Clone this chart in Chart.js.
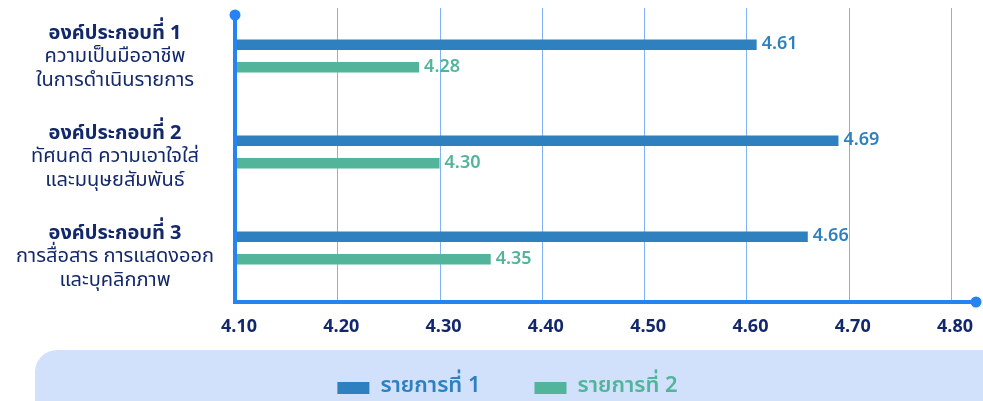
<!DOCTYPE html>
<html>
<head>
<meta charset="utf-8">
<script src="https://cdn.jsdelivr.net/npm/chart.js@4.4.1/dist/chart.umd.min.js"></script>
<style>
html, body { margin: 0; padding: 0; background: #fff; }
#wrap { width: 983px; height: 401px; }
</style>
</head>
<body>
<div id="wrap"><canvas id="grafico"></canvas></div>
<script>
// Datos
const categorias = [
    ["องค์ประกอบที่ 1", "ความเป็นมืออาชีพ", "ในการดำเนินรายการ"],
    ["องค์ประกอบที่ 2", "ทัศนคติ ความเอาใจใส่", "และมนุษยสัมพันธ์"],
    ["องค์ประกอบที่ 3", "การสื่อสาร การแสดงออก", "และบุคลิกภาพ"]
];
const rotulos = ["รายการที่ 1", "รายการที่ 2"];
const serie1 = [4.61, 4.69, 4.66];
const serie2 = [4.28, 4.30, 4.35];
const ticksX = [4.10, 4.20, 4.30, 4.40, 4.50, 4.60, 4.70, 4.80];

const AZUL = '#2e80bf';
const VERDE = '#52b49b';
const EJE = '#2684f2';
const GRID = '#7fb2f7';
const TEXTO = '#13286b';
const FUENTE = '"Noto Sans Thai", "Noto Sans", "DejaVu Sans", sans-serif';

// fondo de la leyenda y rejilla
const fondo = {
    id: 'fondo',
    beforeDraw(chart) {
        const c = chart.ctx;
        c.save();
        c.fillStyle = '#d1e1fc';
        c.beginPath();
        c.roundRect(35, 350, 1000, 80, 22);
        c.fill();
        const x = chart.scales.x;
        c.strokeStyle = GRID;
        c.lineWidth = 1;
        ticksX.slice(1).forEach(v => {
            const px = Math.round(x.getPixelForValue(v)) + 0.5;
            c.beginPath();
            c.moveTo(px, 8);
            c.lineTo(px, 302);
            c.stroke();
        });
        c.restore();
    },
    afterDatasetsDraw(chart) {
        const c = chart.ctx;
        const x = chart.scales.x;
        const y = chart.scales.y;
        const x0 = x.getPixelForValue(ticksX[0]);
        c.save();
        // ejes
        c.strokeStyle = EJE;
        c.fillStyle = EJE;
        c.lineWidth = 4;
        c.beginPath();
        c.moveTo(x0, 15);
        c.lineTo(x0, 302);
        c.lineTo(976, 302);
        c.stroke();
        c.beginPath(); c.arc(x0, 15, 5.5, 0, Math.PI * 2); c.fill();
        c.beginPath(); c.arc(976, 302, 5.5, 0, Math.PI * 2); c.fill();

        // valores
        c.textBaseline = 'middle';
        c.textAlign = 'left';
        c.font = '600 18px ' + FUENTE;
        chart.data.datasets.forEach((ds, di) => {
            chart.getDatasetMeta(di).data.forEach((bar, i) => {
                c.fillStyle = ds.backgroundColor;
                c.fillText(ds.data[i].toFixed(2), bar.x + 5, bar.y + 1);
            });
        });

        // etiquetas de categoría
        c.textAlign = 'center';
        categorias.forEach((lineas, i) => {
            const cy = y.getPixelForValue(i) + 2 + i * 4;
            lineas.forEach((t, j) => {
                c.fillStyle = TEXTO;
                c.font = (j === 0 ? 'bold ' : '') + '20px ' + FUENTE;
                c.fillText(t, 115, cy + (j - 1) * 23.5);
            });
        });
        c.restore();
    }
};

const ctx = document.getElementById('grafico').getContext('2d');
const chart = new Chart(ctx, {
    type: 'bar',
    data: {
        labels: categorias.map(l => l.join(' ')),
        datasets: [
            { label: rotulos[0], data: serie1, backgroundColor: AZUL },
            { label: rotulos[1], data: serie2, backgroundColor: VERDE }
        ]
    },
    options: {
        indexAxis: 'y',
        responsive: true,
        maintainAspectRatio: false,
        animation: false,
        categoryPercentage: 0.47,
        barPercentage: 0.47,
        layout: { padding: { left: 58, right: 26, top: 8, bottom: -8 } },
        scales: {
            x: {
                min: 4.1,
                max: 4.8,
                grid: { display: false },
                border: { display: false },
                afterFit: s => { s.height = 71; },
                ticks: {
                    stepSize: 0.1,
                    padding: 14,
                    labelOffset: 4,
                    color: TEXTO,
                    font: { family: FUENTE, size: 18, weight: 'bold' },
                    callback: v => Number(v).toFixed(2)
                }
            },
            y: {
                grid: { display: false },
                border: { display: false },
                ticks: { display: false },
                afterFit: s => { s.width = 177; }
            }
        },
        plugins: {
            legend: {
                position: 'bottom',
                labels: {
                    boxWidth: 32,
                    boxHeight: 12,
                    padding: 10,
                    font: { family: FUENTE, size: 22, weight: '600' },
                    generateLabels: ch => Chart.defaults.plugins.legend.labels.generateLabels(ch).map((it, i) => {
                        it.fontColor = it.fillStyle;
                        it.lineWidth = 0;
                        if (i === 0) it.text = it.text + '\u2003\u2003';
                        return it;
                    })
                }
            },
            tooltip: { enabled: false }
        }
    },
    plugins: [fondo]
});
</script>
</body>
</html>
